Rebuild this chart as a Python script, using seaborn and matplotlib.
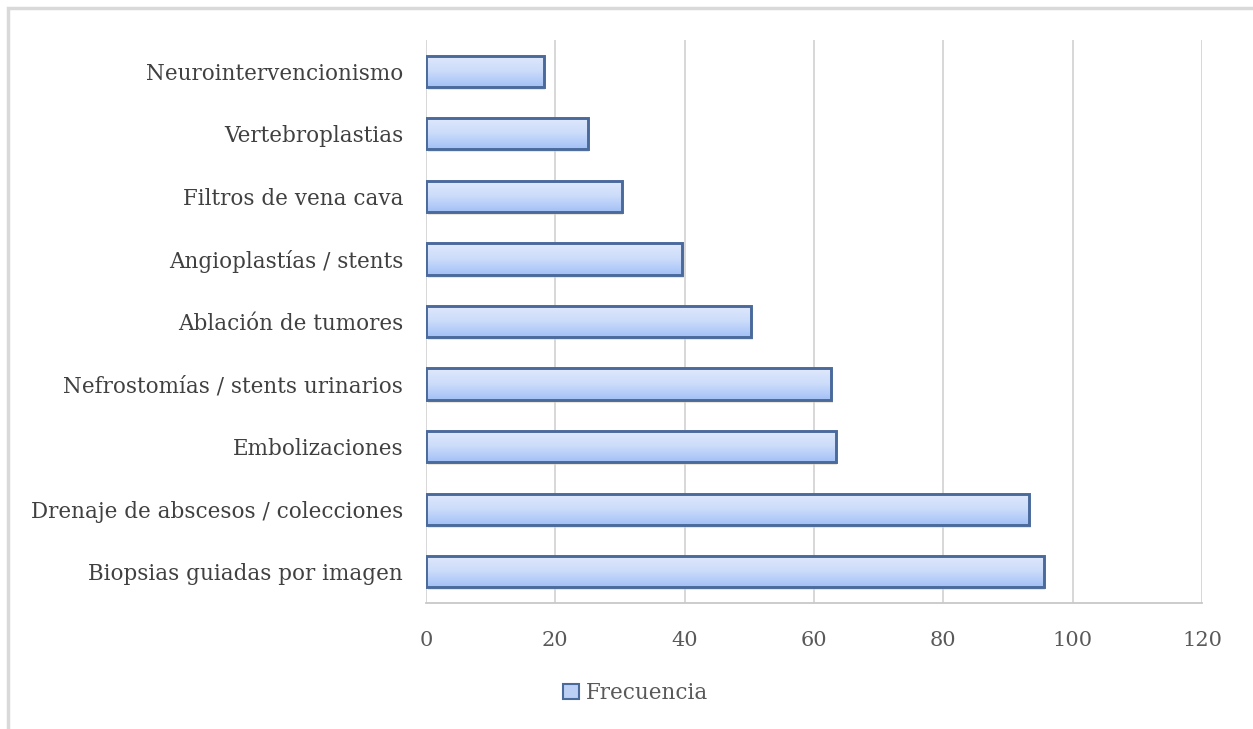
import numpy as np
import pandas as pd
import matplotlib
matplotlib.use("Agg")
import matplotlib.pyplot as plt
import matplotlib.transforms as mtransforms
from matplotlib.patches import Rectangle, Patch
import seaborn as sns

categories = [
    "Neurointervencionismo",
    "Vertebroplastias",
    "Filtros de vena cava",
    "Angioplastías / stents",
    "Ablación de tumores",
    "Nefrostomías / stents urinarios",
    "Embolizaciones",
    "Drenaje de abscesos / colecciones",
    "Biopsias guiadas por imagen",
]
frecuencia = [18.2, 25.0, 30.3, 39.6, 50.3, 62.7, 63.4, 93.3, 95.5]
x_ticks = [0, 20, 40, 60, 80, 100, 120]
series_name = "Frecuencia"

df = pd.DataFrame({"Procedimiento": categories, series_name: frecuencia})

sns.set_theme(style="white")
plt.rcParams["font.family"] = ["DejaVu Serif"]

W, H = 1253, 729
fig = plt.figure(figsize=(W / 100, H / 100), dpi=100)
ax = fig.add_axes([426 / W, 1 - 603 / H, (1202 - 426) / W, (603 - 40) / H])

edge_col = "#4a6a9c"
sns.barplot(data=df, x=series_name, y="Procedimiento", orient="h", ax=ax,
            color="#b9cff5", edgecolor=edge_col, linewidth=2.1, width=0.5,
            saturation=1)

# vertical gradient inside each bar (light on top, deeper blue at the bottom)
grad = np.linspace(0, 1, 64).reshape(-1, 1)
cmap = matplotlib.colors.LinearSegmentedColormap.from_list(
    "barfill", ["#e0e8fc", "#cbdcfa", "#a3c1f6"])
shadow_tf = mtransforms.offset_copy(ax.transData, fig=fig, x=1.5, y=-3, units="dots")
for p in list(ax.patches):
    x0, y0 = p.get_x(), p.get_y()
    w, h = p.get_width(), p.get_height()
    z = p.get_zorder()
    p.set_facecolor("none")
    # soft drop shadow under the bar
    ax.add_patch(Rectangle((x0, y0), w, h, transform=shadow_tf, facecolor="#d8cdb8",
                           edgecolor="none", alpha=0.5, zorder=z - 0.2))
    im = ax.imshow(grad, cmap=cmap, aspect="auto", extent=(x0, x0 + w, y0 + h, y0),
                   interpolation="bicubic", zorder=z - 0.1)
    im.set_clip_path(p)

ax.set_xlim(0, 120)
ax.set_ylim(len(categories) - 0.5, -0.5)
ax.set_xticks(x_ticks)
ax.set_xlabel("")
ax.set_ylabel("")
ax.grid(axis="x", color="#d4d4d4", linewidth=1.3)
ax.set_axisbelow(True)
for s in ["top", "right", "left"]:
    ax.spines[s].set_visible(False)
ax.spines["bottom"].set_color("#c8c8c8")
ax.spines["bottom"].set_linewidth(1.3)
ax.tick_params(axis="x", direction="out", length=7, width=1.3, color="#c8c8c8",
               labelsize=15, labelcolor="#595959", pad=13)
ax.tick_params(axis="y", length=0, labelsize=15.5, labelcolor="#404040", pad=16.5)

handle = Patch(facecolor="#bcd0f5", edgecolor=edge_col, linewidth=1.5, label=series_name)
fig.legend(handles=[handle], loc="center", bbox_to_anchor=(0.507, 1 - 693 / H),
           frameon=False, fontsize=15.5, labelcolor="#595959",
           handlelength=0.75, handleheight=0.75, handletextpad=0.3)

# outer chart border
fig.patches.append(Rectangle((8 / W, -0.05), 1.2, 1.05 - 8 / H, transform=fig.transFigure,
                             fill=False, edgecolor="#d9d9d9", linewidth=2.5))

fig.savefig("out.png", dpi=100, facecolor="white")
